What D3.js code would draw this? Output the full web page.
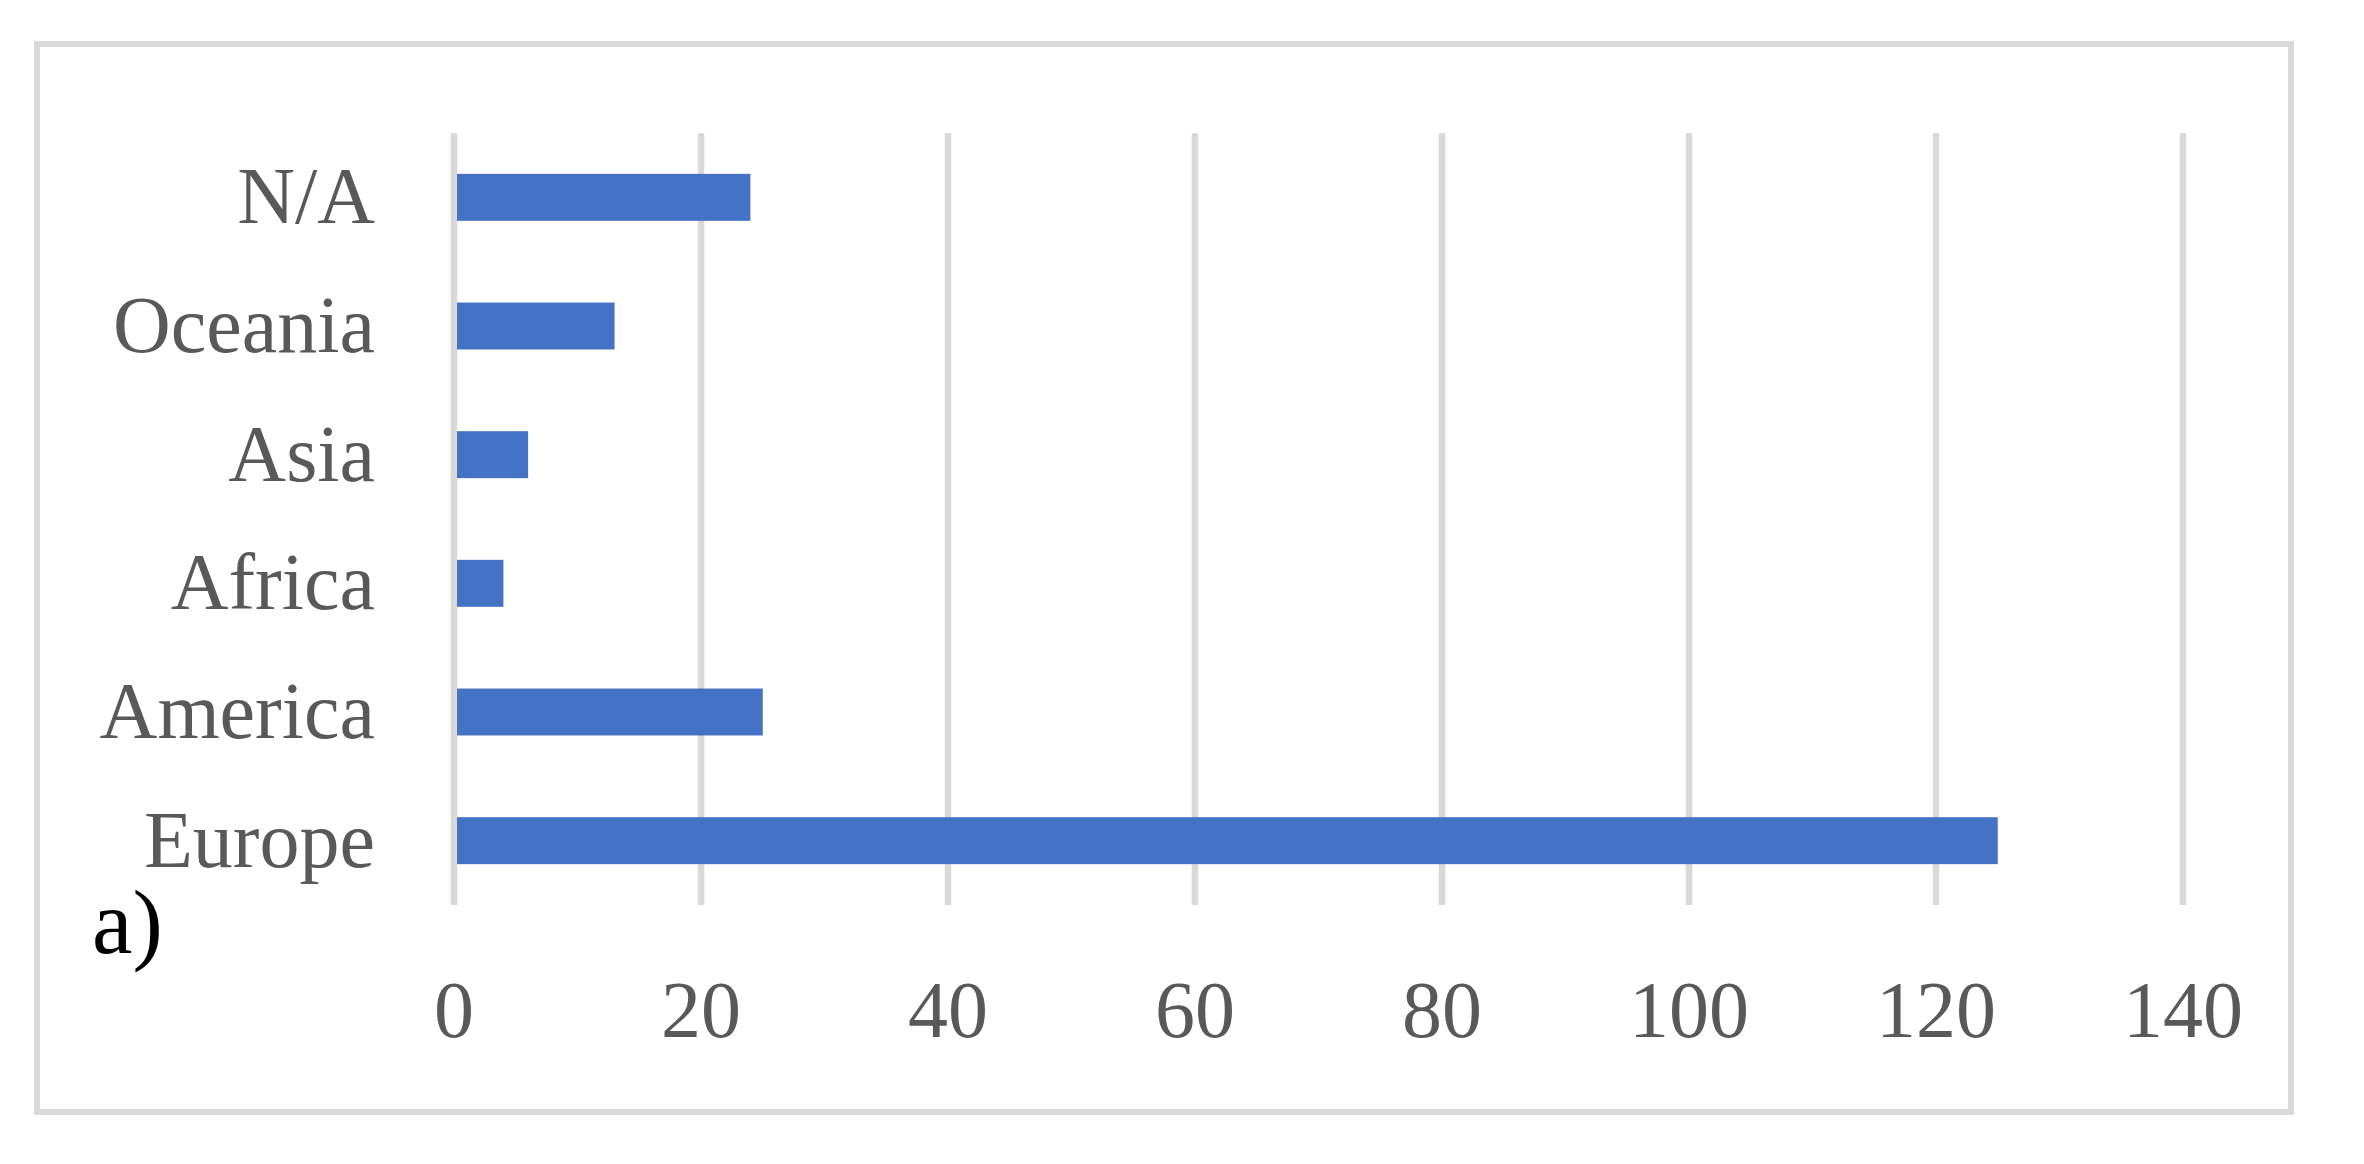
<!DOCTYPE html>
<html lang="en">
<head>
  <meta charset="UTF-8" />
  <title>Bar chart by continent</title>
  <style>
    body { margin: 0; padding: 0; background: #fff; }
    svg { display: block; }
  </style>
  <script src="https://d3js.org/d3.v7.min.js"></script>
</head>
<body>
<svg id="chart" width="2364" height="1164"></svg>
<script>
// data (top to bottom)
const categories = ["N/A", "Oceania", "Asia", "Africa", "America", "Europe"];
const counts = [24, 13, 6, 4, 25, 125];
const xTicks = [0, 20, 40, 60, 80, 100, 120, 140];
const panelLabel = "a)";

const W = 2364, H = 1164;
const plot = {left: 454, right: 2183, top: 133, bottom: 905};

const svg = d3.select("#chart");

svg.append("rect").attr("width", W).attr("height", H).attr("fill", "#fff");

// outer frame
svg.append("rect")
  .attr("x", 37).attr("y", 44)
  .attr("width", 2254).attr("height", 1068)
  .attr("fill", "none")
  .attr("stroke", "#d9d9d9")
  .attr("stroke-width", 6);

const x = d3.scaleLinear().domain([0, 140]).range([plot.left, plot.right]);
const y = d3.scaleBand()
  .domain(categories)
  .range([plot.top, plot.bottom])
  .paddingInner(0.635)
  .paddingOuter(0.3175);

// gridlines
svg.append("g")
  .selectAll("line")
  .data(xTicks)
  .join("line")
  .attr("x1", d => x(d)).attr("x2", d => x(d))
  .attr("y1", plot.top).attr("y2", plot.bottom)
  .attr("stroke", "#d9d9d9")
  .attr("stroke-width", 6.5);

// bars
svg.append("g")
  .selectAll("rect")
  .data(categories)
  .join("rect")
  .attr("x", x(0) + 3)
  .attr("y", d => y(d))
  .attr("width", (d, i) => x(counts[i]) - x(0) - 3)
  .attr("height", y.bandwidth())
  .attr("fill", "#4472c4");

const fontSerif = "'Liberation Serif', 'Times New Roman', serif";

// x tick labels
svg.append("g")
  .selectAll("text")
  .data(xTicks)
  .join("text")
  .attr("x", d => x(d))
  .attr("y", 1037)
  .attr("text-anchor", "middle")
  .attr("font-family", fontSerif)
  .attr("font-size", 80)
  .attr("fill", "#595959")
  .text(d => d);

// category labels
svg.append("g")
  .selectAll("text")
  .data(categories)
  .join("text")
  .attr("x", 375)
  .attr("y", d => y(d) + y.bandwidth() / 2 + 26)
  .attr("text-anchor", "end")
  .attr("font-family", fontSerif)
  .attr("font-size", 80)
  .attr("fill", "#595959")
  .text(d => d);

// panel label
svg.append("text")
  .attr("x", 92)
  .attr("y", 953)
  .attr("font-family", fontSerif)
  .attr("font-size", 91)
  .attr("fill", "#000")
  .text(panelLabel);
</script>
</body>
</html>
